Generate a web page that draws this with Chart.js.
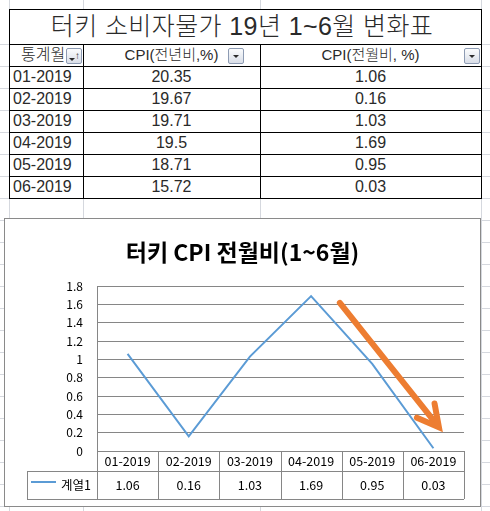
<!DOCTYPE html>
<html>
<head>
<meta charset="utf-8">
<script src="https://cdn.jsdelivr.net/npm/chart.js@4.4.1/dist/chart.umd.min.js"></script>
<style>
  html, body { margin: 0; padding: 0; }
  body { width: 490px; height: 511px; position: relative; overflow: hidden; background: #fff;
         font-family: "Liberation Sans", "Noto Sans CJK KR", sans-serif; color: #2a2a2a; }
  #grid { position: absolute; left: 0; top: 44px; width: 490px; height: 467px;
          background: repeating-linear-gradient(to bottom, #d5d8de 0, #d5d8de 1px, transparent 1px, transparent 22px); }
  .gv { position: absolute; top: 0; width: 1px; height: 511px; background: #d5d8de; }
  #sheet { position: absolute; left: 9px; top: 9px; width: 472px; height: 190px; background: #fff; }
  .ln { position: absolute; background: #000; }
  .cell { position: absolute; height: 22px; line-height: 22px; font-size: 16px; white-space: nowrap; font-weight: 300; }
  .btn { position: absolute; width: 16px; height: 16px; box-sizing: border-box; border: 1px solid #8d9bb3;
         border-radius: 2px; background: linear-gradient(#fbfcfd, #d9dee8); }
  .tri { position: absolute; width: 0; height: 0; border-left: 3px solid transparent;
         border-right: 3px solid transparent; border-top: 3px solid #2b2b2b; }
  .up { position: absolute; font-size: 10px; line-height: 10px; color: #2b2b2b; }
  #box { position: absolute; left: 4px; top: 218px; width: 477px; height: 289px; box-sizing: border-box;
         border: 1px solid #8a8a8a; background: #fff; }
  #chart { position: absolute; left: 0; top: 0; }
</style>
</head>
<body>
<div id="grid"></div>
<div class="gv" style="left:9px"></div>
<div class="gv" style="left:83px"></div>
<div class="gv" style="left:260px"></div>
<div class="gv" style="left:481px"></div>
<div id="sheet"></div>
<div id="box"><canvas id="chart" width="475" height="287"></canvas></div>

<script>
const sheetTitle = "터키 소비자물가 19년 1~6월 변화표";
const headers = ["통계월", "CPI(전년비,%)", "CPI(전월비, %)"];
const months = ["01-2019", "02-2019", "03-2019", "04-2019", "05-2019", "06-2019"];
const cpiYoY = [20.35, 19.67, 19.71, 19.5, 18.71, 15.72];
const cpiMoM = [1.06, 0.16, 1.03, 1.69, 0.95, 0.03];
const chartTitle = "터키 CPI 전월비(1~6월)";
const seriesName = "계열1";
const yMax = 1.8;
const yStep = 0.2;
// arrow ends as [category index, value]
const arrowFrom = [3.47, 1.615];
const arrowTo = [5.09, 0.26];

const CHART_FONT = "'Noto Sans CJK KR', 'Noto Sans', sans-serif";

// ---- spreadsheet table (coords relative to #sheet at 9,9)
function buildSheet() {
  const sheet = document.getElementById("sheet");
  const cols = [0, 74, 251, 472];
  const add = (html) => sheet.insertAdjacentHTML("beforeend", html);

  const hs = [0, 35, 57, 79, 101, 123, 145, 167, 189];
  hs.forEach(y => add(`<div class="ln" style="left:0;top:${y}px;width:473px;height:1px"></div>`));
  add(`<div class="ln" style="left:0;top:0;width:1px;height:190px"></div>`);
  add(`<div class="ln" style="left:472px;top:0;width:1px;height:190px"></div>`);
  add(`<div class="ln" style="left:74px;top:35px;width:1px;height:155px"></div>`);
  add(`<div class="ln" style="left:251px;top:35px;width:1px;height:155px"></div>`);

  add(`<div class="cell" style="left:-3px;top:0;width:472px;height:35px;line-height:35px;font-size:25px;letter-spacing:0.4px;text-align:center">${sheetTitle}</div>`);

  add(`<div class="cell" style="left:12px;top:35px">${headers[0]}</div>`);
  add(`<div class="cell" style="left:${cols[1]}px;top:35px;width:${cols[2] - cols[1]}px;text-align:center;font-size:15px">${headers[1]}</div>`);
  add(`<div class="cell" style="left:${cols[2]}px;top:35px;width:${cols[3] - cols[2]}px;text-align:center;font-size:15px">${headers[2]}</div>`);
  add(`<div class="btn" style="left:57px;top:39px"><div class="tri" style="left:2px;top:9px"></div><div class="up" style="left:8px;top:2px">↑</div></div>`);
  add(`<div class="btn" style="left:219px;top:39px"><div class="tri" style="left:4px;top:6px"></div></div>`);
  add(`<div class="btn" style="left:455px;top:39px"><div class="tri" style="left:4px;top:6px"></div></div>`);

  months.forEach((m, i) => {
    const top = 57 + i * 22;
    add(`<div class="cell" style="left:4px;top:${top}px">${m}</div>`);
    add(`<div class="cell" style="left:${cols[1]}px;top:${top}px;width:${cols[2] - cols[1]}px;text-align:center">${cpiYoY[i]}</div>`);
    add(`<div class="cell" style="left:${cols[2]}px;top:${top}px;width:${cols[3] - cols[2]}px;text-align:center">${cpiMoM[i]}</div>`);
  });
}

// ---- chart data table under the plot, aligned to the x scale
const dataTable = {
  id: "dataTable",
  afterDraw(chart) {
    const { ctx, chartArea: a, scales: { x } } = chart;
    const r1 = a.bottom + 20, r2 = a.bottom + 48;
    const legendLeft = 22;
    const px = v => Math.round(v) + 0.5;
    ctx.save();
    ctx.strokeStyle = "#868686";
    ctx.lineWidth = 1;
    ctx.beginPath();
    ctx.moveTo(a.left, px(a.bottom)); ctx.lineTo(a.right, px(a.bottom));
    [r1, r2].forEach(y => { ctx.moveTo(legendLeft, px(y)); ctx.lineTo(a.right, px(y)); });
    for (let i = 0; i <= months.length; i++) {
      const xx = px(x.getPixelForValue(i - 0.5));
      ctx.moveTo(xx, a.bottom); ctx.lineTo(xx, r2);
    }
    ctx.moveTo(px(legendLeft), r1); ctx.lineTo(px(legendLeft), r2);
    ctx.stroke();

    ctx.fillStyle = "#000";
    ctx.font = "normal 12.5px " + CHART_FONT;
    ctx.textAlign = "center";
    ctx.textBaseline = "middle";
    months.forEach((m, i) => {
      const cx = x.getPixelForValue(i);
      ctx.fillText(m, cx, a.bottom + 10.5);
      ctx.fillText(String(cpiMoM[i]), cx, r1 + 14.5);
    });

    ctx.strokeStyle = chart.data.datasets[0].borderColor;
    ctx.lineWidth = 2;
    ctx.beginPath();
    ctx.moveTo(legendLeft + 4, r1 + 11); ctx.lineTo(legendLeft + 29, r1 + 11);
    ctx.stroke();
    ctx.textAlign = "right";
    ctx.fillText(chart.data.datasets[0].label, a.left - 6, r1 + 14.5);
    ctx.restore();
  }
};

const arrow = {
  id: "arrow",
  afterDatasetsDraw(chart) {
    const { ctx, scales: { x, y } } = chart;
    const x0 = x.getPixelForValue(arrowFrom[0]), y0 = y.getPixelForValue(arrowFrom[1]);
    const x1 = x.getPixelForValue(arrowTo[0]), y1 = y.getPixelForValue(arrowTo[1]);
    const ang = Math.atan2(y1 - y0, x1 - x0);
    const head = 24, spread = 0.49;
    ctx.save();
    ctx.strokeStyle = "#ED7D31";
    ctx.lineWidth = 6;
    ctx.lineCap = "round";
    ctx.lineJoin = "miter";
    ctx.beginPath();
    ctx.moveTo(x0, y0); ctx.lineTo(x1 - 3 * Math.cos(ang), y1 - 3 * Math.sin(ang));
    ctx.stroke();
    ctx.beginPath();
    ctx.moveTo(x1 - head * Math.cos(ang - spread), y1 - head * Math.sin(ang - spread));
    ctx.lineTo(x1, y1);
    ctx.lineTo(x1 - head * Math.cos(ang + spread), y1 - head * Math.sin(ang + spread));
    ctx.stroke();
    ctx.restore();
  }
};

function buildChart() {
  Chart.defaults.font.family = CHART_FONT;
  Chart.defaults.color = "#000";
  new Chart(document.getElementById("chart"), {
    type: "line",
    data: {
      labels: months,
      datasets: [{ label: seriesName, data: cpiMoM, borderColor: "#5B9BD5", borderWidth: 2, pointRadius: 0, tension: 0, fill: false }]
    },
    options: {
      responsive: false,
      animation: false,
      devicePixelRatio: 1,
      layout: { padding: 0 },
      scales: {
        x: {
          type: "category", offset: true,
          grid: { display: false }, border: { display: false }, ticks: { display: false },
          afterFit(s) { s.height = 55; }
        },
        y: {
          min: 0, max: yMax,
          grid: { color: "#868686", drawTicks: false },
          border: { display: true, color: "#868686" },
          ticks: { stepSize: yStep, padding: 14, font: { size: 12 }, color: "#000",
                   callback: v => String(Math.round(v * 10) / 10) },
          afterFit(s) { s.width = 92; }
        },
        // empty right-hand margin so the title stays centred on the whole chart box
        yRight: {
          position: "right", min: 0, max: yMax,
          grid: { display: false }, border: { display: false }, ticks: { display: false },
          afterFit(s) { s.width = 16; }
        }
      },
      plugins: {
        legend: { display: false },
        tooltip: { enabled: false },
        title: { display: true, text: chartTitle, color: "#000", font: { size: 23, weight: "bold" },
                 padding: { top: 19, bottom: 20.4 } }
      }
    },
    plugins: [arrow, dataTable]
  });
}

window.addEventListener("load", () => {
  buildSheet();
  buildChart();
});
</script>
</body>
</html>
